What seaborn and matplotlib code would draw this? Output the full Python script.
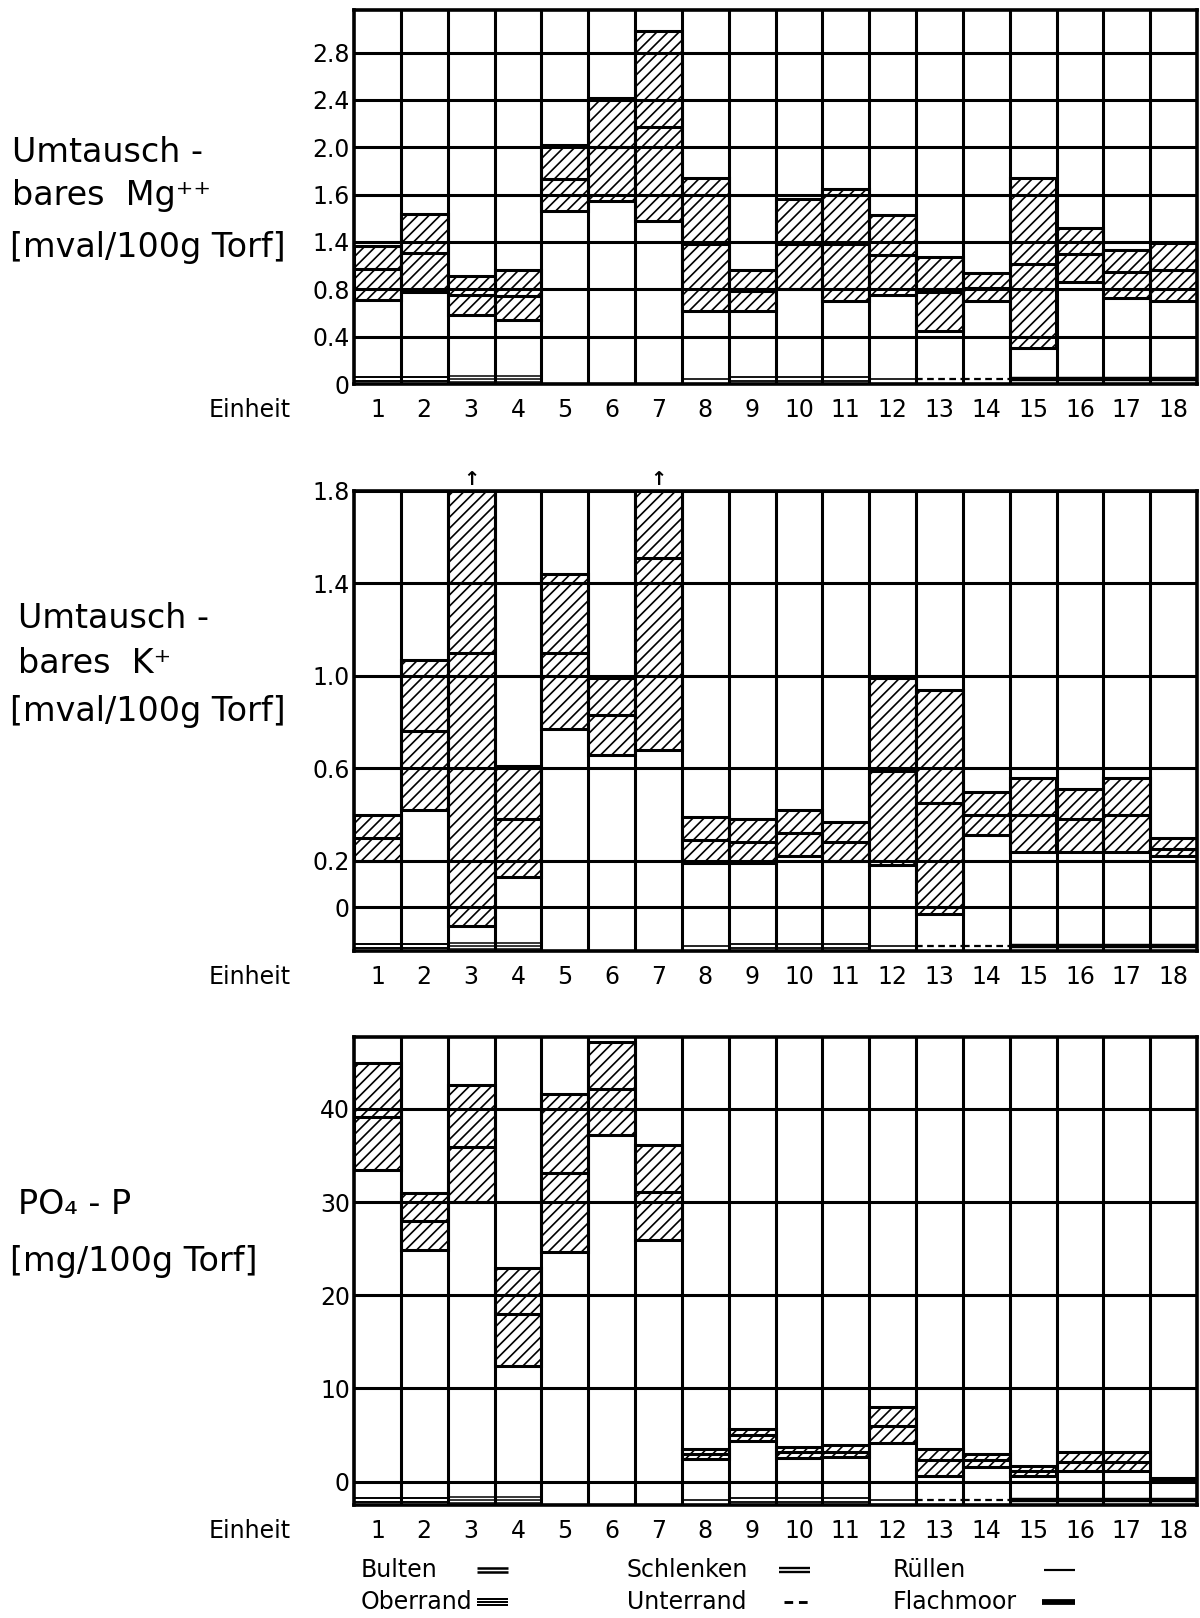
import numpy as np
import matplotlib
matplotlib.use("Agg")
import matplotlib.pyplot as plt
import matplotlib.transforms as mtransforms
from matplotlib.lines import Line2D
import seaborn as sns

# Einheiten (units) on the x axis
units = [str(i) for i in range(1, 19)]

# Umtauschbares Mg++ [mval/100g Torf]: min, median, max per unit
mg_lo = [0.71, 0.78, 0.58, 0.54, 1.46, 1.55, 1.38, 0.62, 0.62, 0.80, 0.70, 0.75, 0.45, 0.70, 0.30, 0.86, 0.73, 0.70]
mg_med = [0.97, 1.11, 0.75, 0.74, 1.73, 2.00, 2.17, 1.18, 0.79, 1.18, 1.18, 1.09, 0.78, 0.81, 1.01, 1.10, 0.95, 0.96]
mg_hi = [1.17, 1.44, 0.91, 0.96, 2.02, 2.42, 2.98, 1.74, 0.96, 1.56, 1.65, 1.43, 1.07, 0.94, 1.74, 1.32, 1.13, 1.19]
mg_ticks = [0, 0.4, 0.8, 1.2, 1.6, 2.0, 2.4, 2.8]
mg_ticklabels = ["0", "0.4", "0.8", "1.4", "1.6", "2.0", "2.4", "2.8"]

# Umtauschbares K+ [mval/100g Torf]
k_lo = [0.20, 0.42, -0.08, 0.13, 0.77, 0.66, 0.68, 0.19, 0.19, 0.22, 0.20, 0.18, -0.03, 0.31, 0.24, 0.24, 0.24, 0.22]
k_med = [0.30, 0.76, 1.10, 0.38, 1.10, 0.83, 1.51, 0.29, 0.28, 0.32, 0.28, 0.59, 0.45, 0.40, 0.40, 0.38, 0.40, 0.25]
k_hi = [0.40, 1.07, 2.00, 0.61, 1.44, 0.99, 2.00, 0.39, 0.38, 0.42, 0.37, 0.99, 0.94, 0.50, 0.56, 0.51, 0.56, 0.30]
k_ticks = [0, 0.2, 0.6, 1.0, 1.4, 1.8]
k_ticklabels = ["0", "0.2", "0.6", "1.0", "1.4", "1.8"]

# PO4-P [mg/100g Torf]
p_lo = [33.4, 24.9, 30.0, 12.4, 24.6, 37.2, 25.9, 2.4, 4.4, 2.5, 2.6, 4.2, 0.6, 1.6, 0.6, 1.1, 1.1, 0.25]
p_med = [39.1, 28.0, 35.9, 18.0, 33.1, 42.1, 31.1, 3.0, 5.0, 3.2, 3.2, 6.0, 2.3, 2.3, 1.2, 2.1, 2.1, 0.30]
p_hi = [44.9, 31.0, 42.5, 22.9, 41.6, 47.2, 36.1, 3.5, 5.6, 3.7, 3.9, 8.0, 3.5, 3.0, 1.7, 3.2, 3.2, 0.35]
p_ticks = [0, 10, 20, 30, 40]
p_ticklabels = ["0", "10", "20", "30", "40"]

# vegetation type of each unit (marker at the foot of the column)
unit_type = ["Bulten", "Bulten", "Oberrand", "Oberrand", "", "", "", "Rüllen",
             "Schlenken", "Schlenken", "Schlenken", "Rüllen", "Unterrand", "Unterrand",
             "Flachmoor", "Flachmoor", "Flachmoor", "Flachmoor"]

# line symbol per type: (offset px, linewidth, linestyle)
symbols = {
    "Bulten": [(-1.6, 1.4, "-"), (1.6, 1.4, "-")],
    "Oberrand": [(-3.0, 1.1, "-"), (0.0, 1.1, "-"), (3.0, 1.1, "-")],
    "Schlenken": [(-2.2, 1.3, "-"), (2.2, 1.3, "-")],
    "Unterrand": [(0.0, 1.6, (0, (3, 2)))],
    "Rüllen": [(0.0, 1.2, "-")],
    "Flachmoor": [(0.0, 3.2, "-")],
}

W, H = 1200, 1618

sns.set_style("white")
plt.rcParams["font.family"] = ["DejaVu Sans"]
plt.rcParams["text.color"] = "black"
plt.rcParams["xtick.color"] = "black"
plt.rcParams["ytick.color"] = "black"
plt.rcParams["hatch.linewidth"] = 1.2
plt.rcParams["hatch.color"] = "black"

fig = plt.figure(figsize=(W / 100, H / 100), dpi=100)


def rect(top, bottom, left=354, right=1197):
    return [left / W, 1 - bottom / H, (right - left) / W, (bottom - top) / H]


def draw_panel(ax, lo, med, hi, ylim, ticks, ticklabels, height_px):
    lo, med, hi = np.array(lo), np.array(med), np.array(hi)
    sns.barplot(x=units, y=hi - lo, bottom=lo, order=units, width=1.0,
                color="white", saturation=1, facecolor="white",
                edgecolor="black", linewidth=2.2, hatch="///",
                errorbar=None, ax=ax, zorder=2)
    pos = np.arange(len(units))
    ax.hlines(med, pos - 0.5, pos + 0.5, colors="black", lw=2.2, zorder=3)
    for t in ticks:
        ax.axhline(t, color="black", lw=2.2, zorder=4)
    for p in pos[:-1]:
        ax.axvline(p + 0.5, color="black", lw=2.2, zorder=4)

    ax.set_xlim(-0.5, len(units) - 0.5)
    ax.set_ylim(*ylim)
    ax.set_yticks(ticks, ticklabels)
    ax.set_xticks(pos, units)
    ax.set_xlabel("")
    ax.set_ylabel("")
    ax.tick_params(axis="y", length=0, labelsize=17, pad=3)
    ax.tick_params(axis="x", length=0, labelsize=17, pad=10)
    for s in ax.spines.values():
        s.set_visible(True)
        s.set_color("black")
        s.set_linewidth(2.6)
        s.set_zorder(5)

    trans = mtransforms.blended_transform_factory(ax.transData, ax.transAxes)
    # arrows for values running off the top
    for i in np.where(hi > ylim[1])[0]:
        ax.text(i, 1.005, "↑", transform=trans, ha="center", va="bottom",
                fontsize=14, fontweight="bold")
    # vegetation-type markers at the column foot
    for i, kind in enumerate(unit_type):
        for dy, lw, ls in symbols.get(kind, []):
            y = (5 + dy) / height_px
            ax.plot([i - 0.5, i + 0.5], [y, y], transform=trans, color="black",
                    lw=lw, ls=ls, zorder=6, solid_capstyle="butt")

    ax.annotate("Einheit", xy=(0, 0), xycoords="axes fraction",
                xytext=(-75, -10), textcoords="offset points",
                ha="center", va="top", fontsize=17)


panels = [
    (10, 384, mg_lo, mg_med, mg_hi, (0, 3.16), mg_ticks, mg_ticklabels,
     [("Umtausch -", 12, 153), ("bares  Mg\u207a\u207a", 12, 196),
      ("[mval/100g Torf]", 10, 248)]),
    (491, 951, k_lo, k_med, k_hi, (-0.19, 1.8), k_ticks, k_ticklabels,
     [("Umtausch -", 18, 619), ("bares  K\u207a", 18, 664),
      ("[mval/100g Torf]", 10, 712)]),
    (1037, 1505, p_lo, p_med, p_hi, (-2.5, 47.7), p_ticks, p_ticklabels,
     [("PO\u2084 - P", 18, 1205), ("[mg/100g Torf]", 10, 1261)]),
]

for top, bottom, lo, med, hi, ylim, ticks, ticklabels, label_lines in panels:
    ax = fig.add_axes(rect(top, bottom))
    draw_panel(ax, lo, med, hi, ylim, ticks, ticklabels, bottom - top)
    for txt, xl, yc in label_lines:
        fig.text(xl / W, 1 - yc / H, txt, ha="left", va="center", fontsize=24)

# legend of vegetation types
legend_items = [
    ("Bulten", 361, 1570, 477, 508),
    ("Oberrand", 361, 1602, 477, 508),
    ("Schlenken", 627, 1570, 779, 810),
    ("Unterrand", 627, 1602, 784, 810),
    ("Rüllen", 893, 1570, 1044, 1075),
    ("Flachmoor", 893, 1602, 1042, 1075),
]
for name, xt, yc, x0, x1 in legend_items:
    fig.text(xt / W, 1 - yc / H, name, ha="left", va="center", fontsize=17)
    for dy, lw, ls in symbols[name]:
        fig.add_artist(Line2D([x0 / W, x1 / W], [1 - (yc + dy) / H] * 2,
                              transform=fig.transFigure, color="black",
                              lw=lw * 1.3, ls=ls, solid_capstyle="butt"))

fig.savefig("out.png", dpi=100, facecolor="white")
